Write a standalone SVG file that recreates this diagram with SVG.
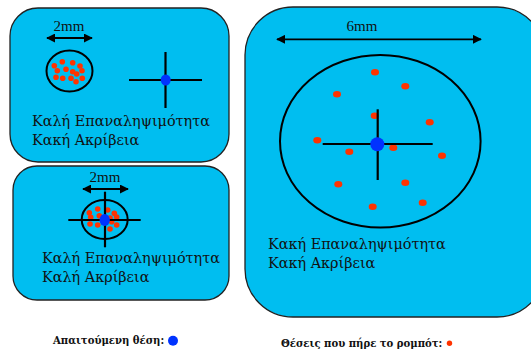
<svg xmlns="http://www.w3.org/2000/svg" width="531" height="349" viewBox="0 0 531 349">
<defs>
<marker id="ah" viewBox="0 0 10 10" refX="9" refY="5" markerWidth="5" markerHeight="5" orient="auto-start-reverse" markerUnits="strokeWidth">
<path d="M0,0 L10,5 L0,10 z" fill="#000"/>
</marker>
<style>
.box{fill:#00BEF0;stroke:#222;stroke-width:1.3}
.ring{fill:none;stroke:#000;stroke-width:2}
.cross{stroke:#000;stroke-width:2.2}
.dim{stroke:#000;stroke-width:1.8;marker-start:url(#ah);marker-end:url(#ah)}
.r{fill:#FF3300}
.b{fill:#0033FF}
.lbl{font-family:"DejaVu Serif",serif;font-size:14.4px;fill:#111}
.mm{font-family:"Liberation Serif","DejaVu Serif",serif;font-size:15px;fill:#111;text-anchor:middle}
.leg{font-family:"DejaVu Serif",serif;font-size:10.1px;font-weight:bold;fill:#111}
</style>
</defs>
<rect width="531" height="349" fill="#fff"/>

<g id="node-good-rep-bad-acc">
<rect class="box" x="10" y="8" width="219" height="154" rx="28"/>
<text class="mm" x="69" y="31">2mm</text>
<line class="dim" x1="47" y1="38" x2="92" y2="38"/>
<ellipse class="ring" cx="69.5" cy="71" rx="23" ry="20.5"/>
<g class="r">
<circle cx="54.3" cy="65.7" r="2.8"/><circle cx="62.3" cy="61.7" r="2.8"/><circle cx="72.7" cy="62.7" r="2.8"/><circle cx="80" cy="66" r="2.8"/>
<circle cx="57.3" cy="70.7" r="2.8"/><circle cx="66" cy="69.3" r="2.8"/><circle cx="72.7" cy="71.7" r="2.8"/><circle cx="76.7" cy="74" r="2.8"/>
<circle cx="82" cy="70.7" r="2.8"/><circle cx="56" cy="77.3" r="2.8"/><circle cx="62.7" cy="78.3" r="2.8"/><circle cx="71" cy="78.3" r="2.8"/>
<circle cx="76" cy="81.7" r="2.8"/><circle cx="82.3" cy="78.3" r="2.8"/>
</g>
<line class="cross" x1="129" y1="80" x2="202" y2="80"/>
<line class="cross" x1="165.5" y1="52" x2="165.5" y2="108"/>
<ellipse class="b" cx="165.7" cy="80" rx="5" ry="5.5"/>
<text class="lbl" x="32" y="125.5">Καλή Επαναληψιμότητα</text>
<text class="lbl" x="32" y="144.5">Κακή Ακρίβεια</text>
</g>

<g id="node-good-rep-good-acc">
<rect class="box" x="13" y="166" width="216" height="134" rx="24"/>
<text class="mm" x="105" y="182">2mm</text>
<line class="dim" x1="83" y1="189" x2="128" y2="189"/>
<ellipse class="ring" cx="104.7" cy="219.5" rx="23" ry="19.5"/>
<g class="r">
<circle cx="89.3" cy="212.7" r="2.8"/><circle cx="97.7" cy="209" r="2.8"/><circle cx="107.7" cy="210" r="2.8"/><circle cx="114.3" cy="213.3" r="2.8"/>
<circle cx="116.7" cy="217" r="2.8"/><circle cx="90.7" cy="217.3" r="2.8"/><circle cx="99.3" cy="215.7" r="2.8"/><circle cx="110" cy="218" r="2.8"/>
<circle cx="90" cy="224" r="2.8"/><circle cx="97.7" cy="225" r="2.8"/><circle cx="111.7" cy="221.7" r="2.8"/><circle cx="116.7" cy="225" r="2.8"/>
<circle cx="110" cy="229" r="2.8"/>
</g>
<line class="cross" x1="68.3" y1="220" x2="140.7" y2="220"/>
<line class="cross" x1="105" y1="191.7" x2="105" y2="247.3"/>
<ellipse class="b" cx="104.7" cy="220" rx="5.2" ry="6"/>
<text class="lbl" x="42" y="262.5">Καλή Επαναληψιμότητα</text>
<text class="lbl" x="42" y="281.5">Καλή Ακρίβεια</text>
</g>

<g id="node-bad-rep-bad-acc">
<rect class="box" x="245" y="7" width="300" height="310" rx="48"/>
<text class="mm" x="362" y="31">6mm</text>
<line class="dim" x1="277" y1="39.3" x2="481" y2="39.3"/>
<ellipse class="ring" cx="380.3" cy="141.3" rx="100.3" ry="86.3"/>
<g class="r">
<ellipse cx="375" cy="72.3" rx="4" ry="3.3"/><ellipse cx="405.3" cy="86.3" rx="4" ry="3.3"/><ellipse cx="337" cy="94.3" rx="4" ry="3.3"/>
<ellipse cx="374.7" cy="115.7" rx="4" ry="3.3"/><ellipse cx="429.7" cy="122.3" rx="4" ry="3.3"/><ellipse cx="317.3" cy="140.3" rx="4" ry="3.3"/>
<ellipse cx="349.3" cy="151.7" rx="4" ry="3.3"/><ellipse cx="393.3" cy="147.7" rx="4" ry="3.3"/><ellipse cx="442" cy="155.7" rx="4" ry="3.3"/>
<ellipse cx="338.3" cy="184.3" rx="4" ry="3.3"/><ellipse cx="405.3" cy="182.7" rx="4" ry="3.3"/><ellipse cx="422.7" cy="202.7" rx="4" ry="3.3"/>
<ellipse cx="372.7" cy="206.7" rx="4" ry="3.3"/>
</g>
<line class="cross" x1="322.7" y1="144" x2="432.7" y2="144"/>
<line class="cross" x1="377.7" y1="109.3" x2="377.7" y2="180"/>
<circle class="b" cx="377.3" cy="144.3" r="7"/>
<text class="lbl" x="268" y="249">Κακή Επαναληψιμότητα</text>
<text class="lbl" x="268" y="268">Κακή Ακρίβεια</text>
</g>

<g id="legend">
<text class="leg" x="53" y="344">Απαιτούμενη θέση:</text>
<circle class="b" cx="173" cy="340.7" r="5"/>
<text class="leg" x="281" y="346.5">Θέσεις που πήρε το ρομπότ:</text>
<circle class="r" cx="449.5" cy="343.3" r="2.7"/>
</g>
<g id="connectors"/>
</svg>
